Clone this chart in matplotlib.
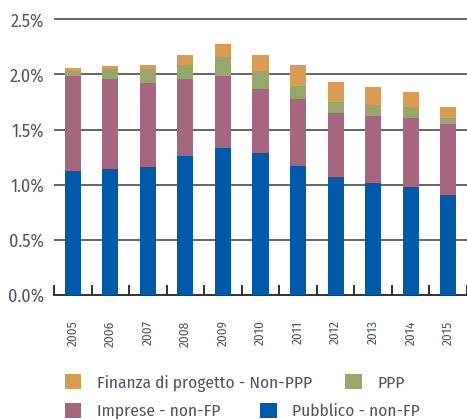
import matplotlib
matplotlib.use("Agg")
import matplotlib.pyplot as plt
from matplotlib.patches import Patch
import numpy as np

years = ["2005", "2006", "2007", "2008", "2009", "2010", "2011", "2012", "2013", "2014", "2015"]
pubblico = [1.127, 1.142, 1.158, 1.263, 1.333, 1.287, 1.172, 1.070, 1.013, 0.982, 0.909]
imprese = [0.858, 0.813, 0.767, 0.692, 0.652, 0.583, 0.608, 0.580, 0.610, 0.626, 0.639]
ppp = [0.045, 0.091, 0.121, 0.133, 0.173, 0.158, 0.118, 0.103, 0.099, 0.099, 0.060]
finanza = [0.025, 0.027, 0.039, 0.085, 0.120, 0.145, 0.187, 0.175, 0.161, 0.133, 0.099]

series = [
    ("Pubblico - non-FP", pubblico, "#0059A9"),
    ("Imprese - non-FP", imprese, "#A5667F"),
    ("PPP", ppp, "#98A66C"),
    ("Finanza di progetto - Non-PPP", finanza, "#DA9C55"),
]
yticks = [0.0, 0.5, 1.0, 1.5, 2.0, 2.5]
ytick_labels = ["0.0%", "0.5%", "1.0%", "1.5%", "2.0%", "2.5%"]

FONT = ["Fira Sans Condensed", "DejaVu Sans"]
text_color = "#4F5563"
fig = plt.figure(figsize=(4.67, 4.19), dpi=100)
ax = fig.add_axes([0.1156, 0.2959, 0.8844, 0.6714])

x = np.arange(len(years))
bottom = np.zeros(len(years))
handles = {}
for name, vals, color in series:
    ax.bar(x, vals, width=0.43, bottom=bottom, color=color, edgecolor="none", zorder=3)
    handles[name] = Patch(facecolor=color, edgecolor="none")
    bottom += np.array(vals)

ax.set_xlim(-0.5, len(years) - 0.5)
ax.set_ylim(0, 2.55)
ax.set_yticks(yticks)
ax.set_yticklabels(ytick_labels)
for y in yticks[1:]:
    ax.axhline(y, color="#3a3a3a", lw=1.1, zorder=1)

for s in ["top", "right", "left"]:
    ax.spines[s].set_visible(False)
ax.spines["bottom"].set_color("#222222")
ax.spines["bottom"].set_linewidth(1.3)

ax.set_xticks(np.arange(-0.5, len(years), 1.0))
ax.set_xticklabels([])
ax.tick_params(axis="x", direction="in", length=7, width=1.3, color="#222222")
ax.tick_params(axis="y", length=0, pad=7, labelcolor=text_color)
for lab in ax.get_yticklabels():
    lab.set_family(FONT)
    lab.set_fontsize(13)
    lab.set_fontweight("normal")

for i, yr in enumerate(years):
    ax.text(i, -0.23, yr, rotation=90, ha="center", va="top", fontsize=9.5,
            color=text_color, family=FONT, fontweight="normal")

leg_font = {"family": FONT, "size": 12.5, "weight": "normal"}
row1 = ["Finanza di progetto - Non-PPP", "PPP"]
row2 = ["Imprese - non-FP", "Pubblico - non-FP"]
common = dict(ncol=2, loc="center left", frameon=False, prop=leg_font,
              handlelength=0.95, handleheight=0.95, handletextpad=0.9,
              borderaxespad=0, borderpad=0)
l1 = fig.legend([handles[n] for n in row1], row1, bbox_to_anchor=(0.139, 0.086),
                columnspacing=1.9, **common)
l2 = fig.legend([handles[n] for n in row2], row2, bbox_to_anchor=(0.139, 0.019),
                columnspacing=2.3, **common)
for leg in (l1, l2):
    for t in leg.get_texts():
        t.set_color(text_color)

fig.savefig("out.png", dpi=100)
